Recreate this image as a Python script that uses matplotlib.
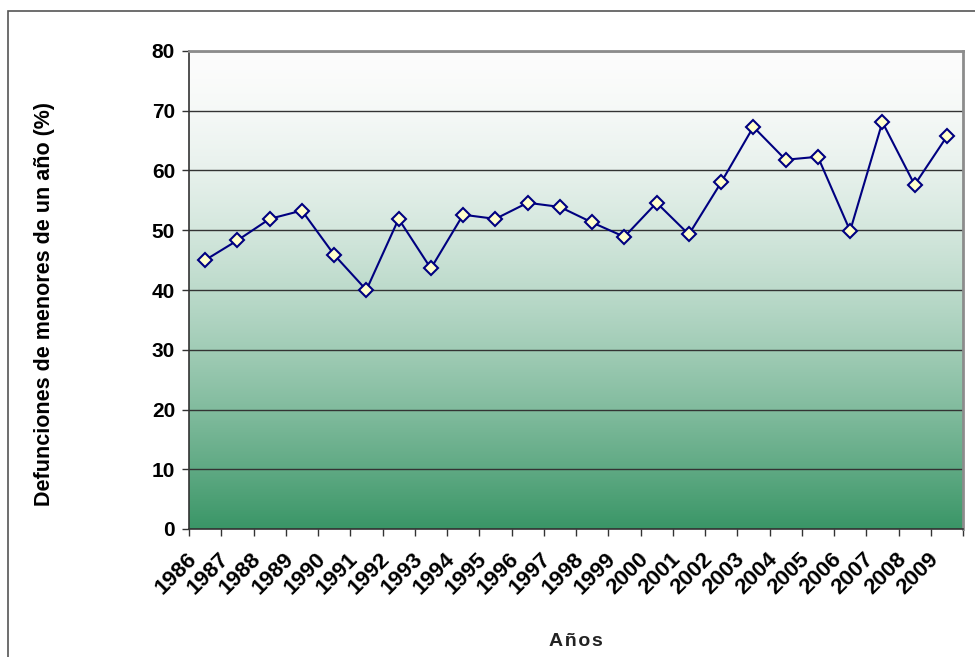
import numpy as np
import matplotlib
matplotlib.use('Agg')
from matplotlib import pyplot as plt
from matplotlib.patches import Rectangle
from matplotlib.transforms import ScaledTranslation

years = ['1986', '1987', '1988', '1989', '1990', '1991', '1992', '1993',
         '1994', '1995', '1996', '1997', '1998', '1999', '2000', '2001',
         '2002', '2003', '2004', '2005', '2006', '2007', '2008', '2009']
pct = [45.0, 48.3, 51.9, 53.3, 45.9, 40.0, 51.9, 43.6,
       52.6, 51.9, 54.6, 53.9, 51.3, 48.9, 54.6, 49.3,
       58.0, 67.3, 61.8, 62.3, 49.9, 68.1, 57.6, 65.7]
yticks = [0, 10, 20, 30, 40, 50, 60, 70, 80]

plt.rcParams['font.family'] = ['Liberation Sans', 'DejaVu Sans']

fig = plt.figure(figsize=(9.75, 6.57), dpi=100)
ax = fig.add_axes([189 / 975, 1 - 529 / 657, (963 - 189) / 975, (529 - 51) / 657])

n = len(years)
x = np.arange(n)

# vertical gradient, white on top to green at bottom
top = np.array([252, 252, 252]) / 255
bot = np.array([58, 150, 103]) / 255
t = np.linspace(0, 1, 256) ** 1.6
grad = top[None, :] * (1 - t[:, None]) + bot[None, :] * t[:, None]
ax.imshow(grad[:, None, :], extent=[-0.5, n - 0.5, 0, 80], aspect='auto',
          origin='upper', zorder=0)

ax.plot(x, pct, color='#000080', lw=1.5, marker='D', markersize=7.5,
        markerfacecolor='#ffffcc', markeredgecolor='#000080',
        markeredgewidth=1.5, zorder=3)

ax.set_xlim(-0.5, n - 0.5)
ax.set_ylim(0, 80)
ax.set_yticks(yticks)
ax.set_yticklabels([str(v) for v in yticks], fontsize=15, fontweight='bold')
ax.yaxis.grid(True, color='#333333', lw=1.0)
ax.tick_params(axis='y', length=5, width=1, color='#333333', pad=5)

# ticks between categories, labels at category centres
ax.set_xticks(np.arange(-0.5, n, 1.0))
ax.set_xticklabels([])
ax.set_xticks(x, minor=True)
ax.set_xticklabels(years, minor=True, rotation=45, ha='right', va='top',
                   rotation_mode='anchor', fontsize=16, fontweight='bold')
ax.tick_params(axis='x', which='major', length=5, width=1, color='#333333')
ax.tick_params(axis='x', which='minor', length=0, pad=14)
shift = ScaledTranslation(-0.19, 0, fig.dpi_scale_trans)
for lbl in ax.get_xticklabels(minor=True):
    lbl.set_transform(lbl.get_transform() + shift)

for side in ['left', 'bottom']:
    ax.spines[side].set_color('#333333')
    ax.spines[side].set_linewidth(1.2)
for side in ['top', 'right']:
    ax.spines[side].set_color('#8c8c8c')
    ax.spines[side].set_linewidth(2)

fig.text(45 / 975, 1 - 304 / 657, 'Defunciones de menores de un año (%)',
         rotation=90, ha='center', va='center', fontsize=15.5, fontweight='bold')
fig.text(576 / 975, 1 - 641 / 657, '\u200a'.join('Años'),
         ha='center', va='center', fontsize=14, fontweight='bold', color='#222222')

fig.patches.append(Rectangle((8 / 975, -0.1), 1.2, 1.1 - 11 / 657,
                             transform=fig.transFigure, fill=False,
                             edgecolor='#555555', lw=1.2))

fig.savefig('out.png', dpi=100)
